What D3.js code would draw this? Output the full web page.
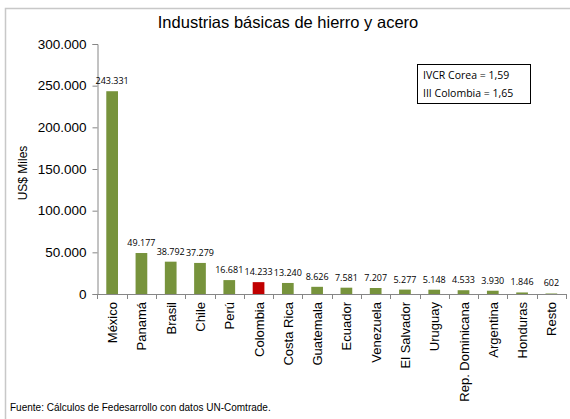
<!DOCTYPE html>
<html>
<head>
<meta charset="utf-8">
<script src="https://cdn.jsdelivr.net/npm/d3@7/dist/d3.min.js"></script>
<style>
  html, body { margin: 0; padding: 0; background: #fff; }
  svg { display: block; }
</style>
</head>
<body>
<svg id="chart" width="570" height="419"></svg>
<script>
// Exports of basic iron and steel industries, thousands of US$
const categories = ["México", "Panamá", "Brasil", "Chile", "Perú", "Colombia", "Costa Rica",
  "Guatemala", "Ecuador", "Venezuela", "El Salvador", "Uruguay", "Rep. Dominicana",
  "Argentina", "Honduras", "Resto"];
const values = [243331, 49177, 38792, 37279, 16681, 14233, 13240, 8626, 7581, 7207,
  5277, 5148, 4533, 3930, 1846, 602];
const valueLabels = ["243.331", "49.177", "38.792", "37.279", "16.681", "14.233", "13.240",
  "8.626", "7.581", "7.207", "5.277", "5.148", "4.533", "3.930", "1.846", "602"];
const yTicks = [0, 50000, 100000, 150000, 200000, 250000, 300000];
const yTickLabels = ["0", "50.000", "100.000", "150.000", "200.000", "250.000", "300.000"];
const highlight = "Colombia";
const noteLines = ["IVCR Corea = 1,59", "III Colombia =  1,65"];

const svg = d3.select("#chart");
const green = "#77933C", red = "#C00000", axisGray = "#868686";
const arial = "Liberation Sans, Arial, sans-serif";
const calibriLike = "Open Sans, Liberation Sans, sans-serif";

// Outer frame (top and left edges)
svg.append("path")
  .attr("d", "M5.5,419 L5.5,8.5 L570,8.5")
  .attr("fill", "none").attr("stroke", "#c8c8c8").attr("stroke-width", 1.5);

const plotLeft = 97.5, plotRight = 566;
const x = d3.scaleBand().domain(categories).range([plotLeft, plotRight])
  .paddingInner(0.6).paddingOuter(0.3);
const y = d3.scaleLinear().domain([0, 300000]).range([294, 44]);

// Title
svg.append("text").attr("x", 288).attr("y", 28).attr("text-anchor", "middle")
  .attr("font-family", arial).attr("font-size", 16.5)
  .attr("fill", "#000").text("Industrias básicas de hierro y acero");

// Y axis
const yAxis = d3.axisLeft(y).tickValues(yTicks)
  .tickFormat((d, i) => yTickLabels[i]).tickSizeOuter(0).tickSize(5).tickPadding(6);
const gy = svg.append("g").attr("transform", `translate(${plotLeft},0)`).call(yAxis);
gy.select(".domain").attr("stroke", axisGray);
gy.selectAll(".tick line").attr("stroke", axisGray);
gy.selectAll(".tick text").attr("font-family", arial)
  .attr("font-size", 13.5).attr("fill", "#000");

// Y axis title
svg.append("text").attr("transform", "translate(27,173) rotate(-90)")
  .attr("text-anchor", "middle").attr("font-family", arial)
  .attr("font-size", 12).attr("fill", "#000").text("US$ Miles");

// X axis baseline with ticks between categories
const step = x.step();
const x0 = x(categories[0]) - x.paddingOuter() * step;
const bounds = d3.range(categories.length + 1).map(i => x0 + i * step);
svg.append("line").attr("x1", plotLeft).attr("x2", bounds[bounds.length - 1])
  .attr("y1", y(0) + 0.5).attr("y2", y(0) + 0.5).attr("stroke", axisGray);
svg.selectAll(".xtick").data(bounds).join("line")
  .attr("x1", d => Math.round(d) + 0.5).attr("x2", d => Math.round(d) + 0.5)
  .attr("y1", y(0)).attr("y2", y(0) + 5).attr("stroke", axisGray);

// Bars
svg.selectAll(".bar").data(categories).join("rect")
  .attr("x", d => x(d)).attr("width", x.bandwidth())
  .attr("y", (d, i) => y(values[i])).attr("height", (d, i) => y(0) - y(values[i]))
  .attr("fill", d => d === highlight ? red : green);

// Value labels
svg.selectAll(".vlabel").data(categories).join("text")
  .attr("x", d => x(d) + x.bandwidth() / 2)
  .attr("y", (d, i) => y(values[i]) - 7)
  .attr("text-anchor", "middle").attr("font-family", calibriLike)
  .attr("font-size", 9).attr("fill", "#000")
  .text((d, i) => valueLabels[i]);

// Category labels, rotated
svg.selectAll(".xlabel").data(categories).join("text")
  .attr("transform", d => `translate(${x(d) + x.bandwidth() / 2 + 5},302) rotate(-90)`)
  .attr("text-anchor", "end").attr("font-family", arial)
  .attr("font-size", 13).attr("fill", "#000").text(d => d);

// Note box
const note = svg.append("g").attr("transform", "translate(417,64)");
note.append("rect").attr("x", 0.5).attr("y", 0.5).attr("width", 113).attr("height", 39)
  .attr("fill", "#fff").attr("stroke", "#000").attr("stroke-width", 1);
note.selectAll("text").data(noteLines).join("text")
  .attr("x", 6).attr("y", (d, i) => 15 + i * 18)
  .attr("font-family", calibriLike).attr("font-size", 10.5)
  .attr("fill", "#000").text(d => d);

// Source note
svg.append("text").attr("x", 10).attr("y", 411)
  .attr("font-family", arial).attr("font-size", 10)
  .attr("fill", "#000").text("Fuente: Cálculos  de Fedesarrollo con datos UN-Comtrade.");
</script>
</body>
</html>
